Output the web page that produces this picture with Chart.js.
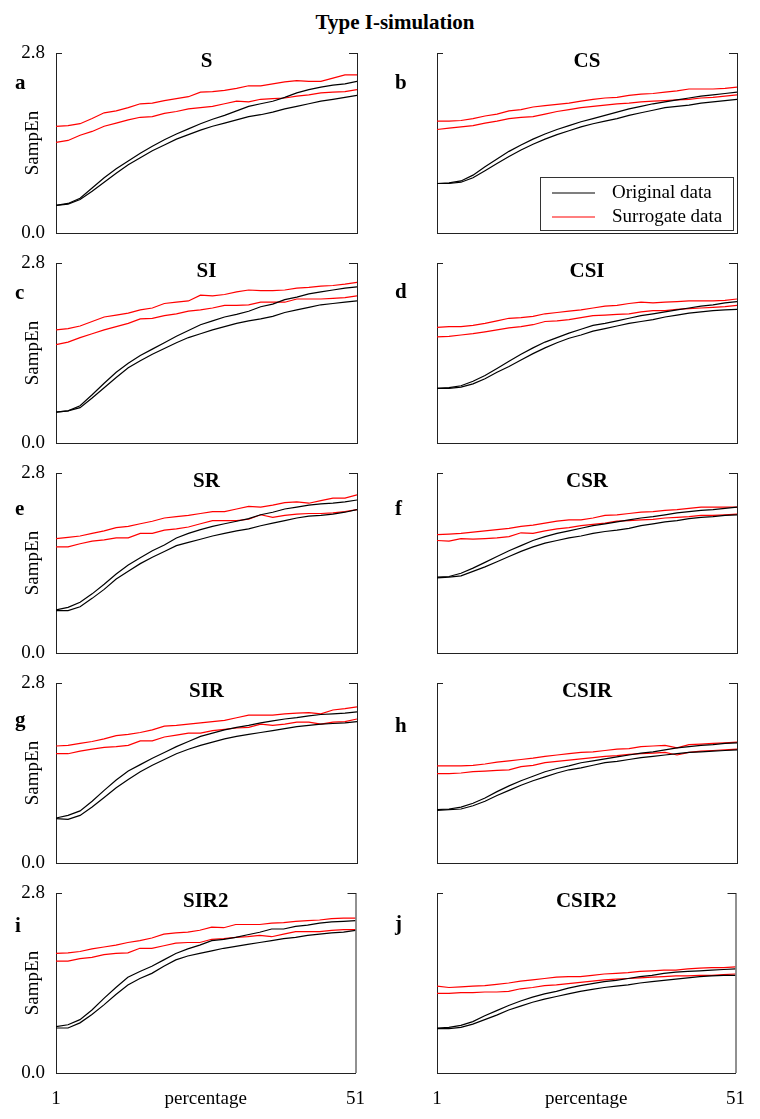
<!DOCTYPE html>
<html>
<head>
<meta charset="utf-8">
<script src="https://cdn.jsdelivr.net/npm/chart.js@4.4.1/dist/chart.umd.min.js"></script>
<style>
  body { margin: 0; background: #fff; width: 760px; height: 1119px; position: relative; overflow: hidden;
         font-family: 'Liberation Serif', 'Times New Roman', serif; }
  #title { position: absolute; left: 0; width: 790px; top: 10px; line-height: 24px; text-align: center;
           font-weight: bold; font-size: 21px; color: #000; }
  canvas { position: absolute; }
</style>
</head>
<body>
<div id="title">Type I-simulation</div>
<script>
// x positions (percentage)
const pct = [1, 3, 5, 7, 9, 11, 13, 15, 17, 19, 21, 23, 25, 27, 29, 31, 33, 35, 37, 39, 41, 43, 45, 47, 49, 51];
const xTicks = [1, 51];
const yTicks = [0, 2.8];
const panelNames = ['S', 'CS', 'SI', 'CSI', 'SR', 'CSR', 'SIR', 'CSIR', 'SIR2', 'CSIR2'];
const panelLetters = ['a', 'b', 'c', 'd', 'e', 'f', 'g', 'h', 'i', 'j'];
const legendLabels = ['Original data', 'Surrogate data'];

// S
const S_orig1 = [0.43,0.46,0.54,0.70,0.86,1.00,1.12,1.24,1.35,1.45,1.54,1.62,1.70,1.77,1.83,1.90,1.97,2.01,2.05,2.11,2.18,2.23,2.27,2.30,2.32,2.36];
const S_orig2 = [0.43,0.45,0.52,0.65,0.79,0.93,1.06,1.17,1.28,1.37,1.46,1.53,1.60,1.66,1.71,1.76,1.81,1.84,1.88,1.93,1.97,2.01,2.05,2.08,2.11,2.14];
const S_surr1 = [1.66,1.67,1.70,1.78,1.87,1.90,1.95,2.01,2.02,2.06,2.09,2.12,2.19,2.20,2.22,2.25,2.29,2.29,2.32,2.35,2.37,2.36,2.36,2.41,2.46,2.46];
const S_surr2 = [1.41,1.44,1.52,1.58,1.66,1.71,1.76,1.80,1.81,1.86,1.89,1.93,1.95,1.97,2.01,2.05,2.04,2.08,2.09,2.10,2.13,2.15,2.18,2.19,2.20,2.23];
// CS
const CS_orig1 = [0.77,0.78,0.81,0.90,1.03,1.15,1.27,1.37,1.46,1.54,1.61,1.67,1.73,1.78,1.83,1.88,1.93,1.97,2.01,2.04,2.07,2.10,2.13,2.15,2.17,2.19];
const CS_orig2 = [0.77,0.77,0.79,0.86,0.97,1.08,1.19,1.29,1.38,1.46,1.53,1.59,1.65,1.70,1.74,1.78,1.83,1.87,1.91,1.95,1.97,1.99,2.02,2.04,2.06,2.08];
const CS_surr1 = [1.74,1.74,1.75,1.78,1.82,1.85,1.90,1.92,1.96,1.98,2.00,2.02,2.05,2.08,2.10,2.11,2.14,2.16,2.17,2.19,2.21,2.24,2.24,2.24,2.25,2.27];
const CS_surr2 = [1.61,1.63,1.65,1.67,1.71,1.74,1.78,1.80,1.81,1.85,1.89,1.92,1.95,1.97,1.99,2.01,2.02,2.04,2.05,2.06,2.07,2.08,2.10,2.11,2.13,2.15];
// SI
const SI_orig1 = [0.48,0.50,0.58,0.75,0.93,1.10,1.24,1.36,1.46,1.56,1.66,1.75,1.84,1.90,1.96,2.00,2.05,2.12,2.16,2.23,2.27,2.32,2.35,2.38,2.41,2.43];
const SI_orig2 = [0.48,0.50,0.55,0.70,0.86,1.02,1.17,1.28,1.38,1.47,1.56,1.64,1.70,1.76,1.81,1.86,1.90,1.93,1.97,2.03,2.07,2.11,2.15,2.17,2.19,2.21];
const SI_surr1 = [1.76,1.78,1.82,1.89,1.96,1.99,2.02,2.07,2.10,2.17,2.19,2.21,2.30,2.29,2.31,2.35,2.38,2.37,2.37,2.38,2.41,2.42,2.44,2.45,2.47,2.50];
const SI_surr2 = [1.53,1.57,1.64,1.70,1.76,1.81,1.86,1.93,1.94,1.98,2.01,2.05,2.07,2.10,2.14,2.14,2.15,2.19,2.19,2.19,2.24,2.24,2.24,2.25,2.26,2.29];
// CSI
const CSI_orig1 = [0.85,0.86,0.89,0.96,1.05,1.16,1.27,1.38,1.48,1.57,1.64,1.71,1.77,1.83,1.86,1.90,1.94,1.98,2.01,2.04,2.07,2.10,2.13,2.15,2.18,2.20];
const CSI_orig2 = [0.85,0.85,0.87,0.92,1.00,1.10,1.19,1.29,1.39,1.48,1.56,1.63,1.68,1.74,1.78,1.82,1.86,1.89,1.92,1.96,1.99,2.02,2.04,2.06,2.07,2.08];
const CSI_surr1 = [1.80,1.81,1.81,1.83,1.86,1.90,1.94,1.95,1.97,2.01,2.03,2.05,2.07,2.10,2.13,2.14,2.17,2.19,2.18,2.19,2.20,2.21,2.21,2.21,2.22,2.24];
const CSI_surr2 = [1.65,1.66,1.68,1.70,1.73,1.76,1.79,1.81,1.84,1.89,1.90,1.92,1.95,1.98,1.99,2.00,2.01,2.04,2.06,2.06,2.08,2.09,2.10,2.11,2.12,2.14];
// SR
const SR_orig1 = [0.67,0.71,0.79,0.92,1.07,1.23,1.37,1.48,1.59,1.68,1.79,1.86,1.92,1.97,2.01,2.05,2.09,2.15,2.19,2.24,2.27,2.30,2.32,2.33,2.35,2.38];
const SR_orig2 = [0.66,0.66,0.72,0.85,0.99,1.15,1.27,1.39,1.49,1.58,1.67,1.72,1.77,1.82,1.86,1.90,1.93,1.98,2.02,2.06,2.10,2.13,2.14,2.16,2.19,2.23];
const SR_surr1 = [1.78,1.80,1.82,1.86,1.90,1.95,1.97,2.01,2.05,2.10,2.12,2.14,2.17,2.20,2.20,2.24,2.28,2.27,2.30,2.34,2.35,2.33,2.37,2.41,2.41,2.46];
const SR_surr2 = [1.65,1.65,1.70,1.74,1.76,1.79,1.79,1.86,1.86,1.91,1.93,1.96,2.01,2.06,2.06,2.06,2.08,2.15,2.11,2.14,2.16,2.17,2.17,2.18,2.20,2.23];
// CSR
const CSR_orig1 = [1.18,1.19,1.24,1.32,1.41,1.50,1.59,1.67,1.75,1.81,1.86,1.90,1.94,1.98,2.01,2.04,2.07,2.10,2.12,2.15,2.18,2.20,2.22,2.23,2.25,2.27];
const CSR_orig2 = [1.17,1.18,1.20,1.27,1.34,1.42,1.50,1.58,1.65,1.71,1.75,1.79,1.82,1.86,1.89,1.91,1.94,1.98,2.01,2.04,2.06,2.09,2.11,2.12,2.14,2.15];
const CSR_surr1 = [1.84,1.85,1.86,1.88,1.90,1.92,1.94,1.97,1.99,2.02,2.05,2.07,2.07,2.10,2.14,2.15,2.17,2.19,2.20,2.22,2.23,2.25,2.27,2.27,2.27,2.27];
const CSR_surr2 = [1.75,1.74,1.78,1.77,1.78,1.79,1.81,1.87,1.86,1.90,1.93,1.95,1.98,2.00,2.02,2.05,2.06,2.07,2.08,2.10,2.11,2.12,2.14,2.14,2.15,2.16];
// SIR
const SIR_orig1 = [0.70,0.74,0.81,0.96,1.13,1.29,1.43,1.53,1.63,1.72,1.81,1.89,1.97,2.02,2.07,2.11,2.14,2.18,2.21,2.24,2.26,2.29,2.31,2.32,2.33,2.35];
const SIR_orig2 = [0.69,0.68,0.74,0.87,1.02,1.17,1.30,1.42,1.52,1.61,1.70,1.77,1.83,1.88,1.93,1.97,2.00,2.03,2.06,2.09,2.12,2.14,2.16,2.17,2.18,2.20];
const SIR_surr1 = [1.82,1.83,1.86,1.89,1.93,1.98,2.00,2.03,2.07,2.13,2.14,2.16,2.18,2.20,2.22,2.26,2.30,2.30,2.30,2.32,2.33,2.34,2.32,2.38,2.40,2.43];
const SIR_surr2 = [1.70,1.70,1.74,1.77,1.80,1.81,1.83,1.90,1.90,1.96,1.99,2.02,2.02,2.06,2.08,2.10,2.11,2.16,2.14,2.16,2.19,2.19,2.16,2.19,2.20,2.24];
// CSIR
const CSIR_orig1 = [0.83,0.84,0.87,0.93,1.01,1.11,1.20,1.28,1.35,1.42,1.47,1.51,1.56,1.59,1.62,1.65,1.68,1.71,1.73,1.76,1.79,1.81,1.83,1.84,1.86,1.87];
const CSIR_orig2 = [0.82,0.83,0.84,0.89,0.96,1.05,1.13,1.21,1.28,1.34,1.40,1.45,1.48,1.52,1.56,1.58,1.61,1.64,1.66,1.68,1.70,1.72,1.73,1.74,1.75,1.76];
const CSIR_surr1 = [1.51,1.51,1.51,1.52,1.54,1.57,1.59,1.61,1.63,1.66,1.68,1.70,1.72,1.73,1.75,1.77,1.78,1.81,1.82,1.83,1.79,1.84,1.85,1.86,1.87,1.88];
const CSIR_surr2 = [1.39,1.39,1.40,1.42,1.43,1.44,1.45,1.50,1.52,1.56,1.58,1.60,1.62,1.64,1.66,1.67,1.69,1.70,1.71,1.72,1.68,1.72,1.74,1.75,1.76,1.77];
// SIR2
const SIR2_orig1 = [0.72,0.75,0.83,0.98,1.16,1.33,1.49,1.58,1.66,1.76,1.86,1.93,1.99,2.06,2.08,2.11,2.15,2.19,2.24,2.24,2.28,2.30,2.33,2.35,2.36,2.37];
const SIR2_orig2 = [0.70,0.70,0.78,0.91,1.06,1.22,1.37,1.47,1.55,1.66,1.76,1.82,1.86,1.90,1.94,1.97,2.00,2.03,2.06,2.09,2.11,2.14,2.16,2.18,2.19,2.22];
const SIR2_surr1 = [1.86,1.87,1.89,1.93,1.96,1.99,2.03,2.06,2.10,2.16,2.18,2.19,2.22,2.27,2.26,2.31,2.31,2.31,2.33,2.34,2.36,2.37,2.38,2.40,2.41,2.41];
const SIR2_surr2 = [1.74,1.74,1.78,1.80,1.84,1.86,1.87,1.94,1.94,1.98,2.02,2.03,2.03,2.08,2.09,2.11,2.12,2.14,2.12,2.16,2.20,2.20,2.20,2.22,2.23,2.23];
// CSIR2
const CSIR2_orig1 = [0.70,0.71,0.74,0.80,0.89,0.97,1.05,1.12,1.18,1.23,1.27,1.32,1.36,1.39,1.42,1.44,1.47,1.50,1.52,1.55,1.57,1.58,1.59,1.60,1.61,1.62];
const CSIR2_orig2 = [0.69,0.69,0.71,0.76,0.83,0.90,0.98,1.04,1.10,1.15,1.19,1.23,1.27,1.30,1.33,1.35,1.37,1.40,1.42,1.44,1.46,1.48,1.50,1.51,1.52,1.52];
const CSIR2_surr1 = [1.35,1.33,1.34,1.35,1.36,1.38,1.40,1.43,1.45,1.47,1.49,1.50,1.50,1.52,1.54,1.55,1.56,1.58,1.59,1.60,1.60,1.62,1.63,1.64,1.64,1.65];
const CSIR2_surr2 = [1.24,1.24,1.25,1.25,1.26,1.26,1.27,1.31,1.33,1.36,1.37,1.39,1.41,1.43,1.45,1.46,1.47,1.48,1.49,1.50,1.51,1.51,1.52,1.52,1.53,1.54];

const panelSeries = [
  [S_orig1, S_orig2, S_surr1, S_surr2],
  [CS_orig1, CS_orig2, CS_surr1, CS_surr2],
  [SI_orig1, SI_orig2, SI_surr1, SI_surr2],
  [CSI_orig1, CSI_orig2, CSI_surr1, CSI_surr2],
  [SR_orig1, SR_orig2, SR_surr1, SR_surr2],
  [CSR_orig1, CSR_orig2, CSR_surr1, CSR_surr2],
  [SIR_orig1, SIR_orig2, SIR_surr1, SIR_surr2],
  [CSIR_orig1, CSIR_orig2, CSIR_surr1, CSIR_surr2],
  [SIR2_orig1, SIR2_orig2, SIR2_surr1, SIR2_surr2],
  [CSIR2_orig1, CSIR2_orig2, CSIR2_surr1, CSIR2_surr2]
];

const serif = "'Liberation Serif', 'Times New Roman', serif";
const frameColor = '#222';
const colOrig = '#000000';
const colSurr = '#ff0000';
const letterDy = [36, 36, 36, 35, 42, 42, 43, 49, 39, 37];

// right edge, small top corner ticks, panel name and letter
const framePlugin = {
  id: 'frame',
  afterDraw(chart) {
    const { ctx, chartArea: { left, right, top, bottom } } = chart;
    const o = chart.options.plugins.frame;
    ctx.save();
    ctx.strokeStyle = frameColor;
    ctx.lineWidth = 1;
    ctx.beginPath();
    ctx.moveTo(left, top + 0.5); ctx.lineTo(left + 6, top + 0.5);
    ctx.moveTo(right - 8, top + 0.5); ctx.lineTo(right + 0.5, top + 0.5);
    ctx.moveTo(right + 0.5, top); ctx.lineTo(right + 0.5, bottom);
    ctx.stroke();
    ctx.fillStyle = '#000';
    ctx.font = 'bold 21px ' + serif;
    ctx.textAlign = 'center';
    ctx.textBaseline = 'alphabetic';
    ctx.fillText(o.name, (left + right) / 2, top + 14);
    ctx.textAlign = 'left';
    ctx.fillText(o.letter, 15, top + o.dy);
    ctx.restore();
  }
};

// boxed legend, only in panel b
const boxLegend = {
  id: 'boxLegend',
  afterDraw(chart) {
    if (!chart.options.plugins.boxLegend.show) return;
    const { ctx, chartArea: { right, bottom } } = chart;
    const x0 = right - 197, y0 = bottom - 56, w = 193, h = 53;
    ctx.save();
    ctx.strokeStyle = '#333';
    ctx.lineWidth = 1;
    ctx.strokeRect(Math.round(x0) + 0.5, Math.round(y0) + 0.5, w, h);
    const rows = [[legendLabels[0], colOrig], [legendLabels[1], colSurr]];
    rows.forEach((r, i) => {
      const y = y0 + 16 + i * 24;
      ctx.strokeStyle = r[1];
      ctx.lineWidth = 1.2;
      ctx.beginPath();
      ctx.moveTo(x0 + 12, y); ctx.lineTo(x0 + 55, y);
      ctx.stroke();
      ctx.fillStyle = '#000';
      ctx.font = '19px ' + serif;
      ctx.textAlign = 'left';
      ctx.textBaseline = 'middle';
      ctx.fillText(r[0], x0 + 72, y);
    });
    ctx.restore();
  }
};

panelNames.forEach((name, idx) => {
  const col = idx % 2, row = Math.floor(idx / 2);
  const bottomRow = row === 4;
  const top = 53 + 210 * row - 30;
  // x axis box is kept taller than the y tick label overhang so the plot spans 180px
  const xH = bottomRow ? 46 : 26;
  const h = bottomRow ? 1119 - top : 30 + 180 + xH;
  const cv = document.createElement('canvas');
  cv.width = 380; cv.height = h;
  cv.style.left = (col * 380) + 'px';
  cv.style.top = top + 'px';
  document.body.appendChild(cv);

  const s = panelSeries[idx];
  const mk = (arr, color, label) => ({
    label: label,
    data: pct.map((x, i) => ({ x: x, y: arr[i] })),
    borderColor: color,
    backgroundColor: color,
    borderWidth: 1.2,
    pointRadius: 0,
    tension: 0,
    fill: false
  });

  new Chart(cv, {
    type: 'line',
    data: {
      datasets: [
        mk(s[0], colOrig, legendLabels[0]),
        mk(s[1], colOrig, legendLabels[0]),
        mk(s[2], colSurr, legendLabels[1]),
        mk(s[3], colSurr, legendLabels[1])
      ]
    },
    options: {
      responsive: false,
      animation: false,
      layout: { padding: { left: 0, right: 23, top: 30, bottom: 0 } },
      plugins: {
        legend: { display: false },
        tooltip: { enabled: false },
        frame: { name: name, letter: panelLetters[idx], dy: letterDy[idx] },
        boxLegend: { show: idx === 1 }
      },
      scales: {
        x: {
          type: 'linear', min: 1, max: 51,
          afterBuildTicks: sc => { sc.ticks = xTicks.map(v => ({ value: v })); },
          afterFit: sc => { sc.height = xH; },
          grid: { display: false, drawTicks: false },
          border: { color: frameColor, width: 1 },
          ticks: { display: bottomRow, padding: 15, color: '#000', maxRotation: 0,
                   font: { family: serif, size: 19 }, callback: v => String(v) },
          title: { display: bottomRow, text: 'percentage', color: '#000',
                   font: { family: serif, size: 19 }, padding: { top: 0, bottom: 9 } }
        },
        y: {
          min: 0, max: 2.8,
          afterBuildTicks: sc => { sc.ticks = yTicks.map(v => ({ value: v })); },
          afterFit: sc => { sc.width = col === 0 ? 56 : 57; },
          grid: { display: false, drawTicks: false },
          border: { color: frameColor, width: 1 },
          ticks: { display: col === 0, padding: 11, color: '#000',
                   font: { family: serif, size: 19 }, callback: v => Number(v).toFixed(1) },
          title: { display: col === 0, text: 'SampEn', color: '#000',
                   font: { family: serif, size: 19 }, padding: { top: 22, bottom: 0 } }
        }
      }
    },
    plugins: [framePlugin, boxLegend]
  });
});
</script>
</body>
</html>
